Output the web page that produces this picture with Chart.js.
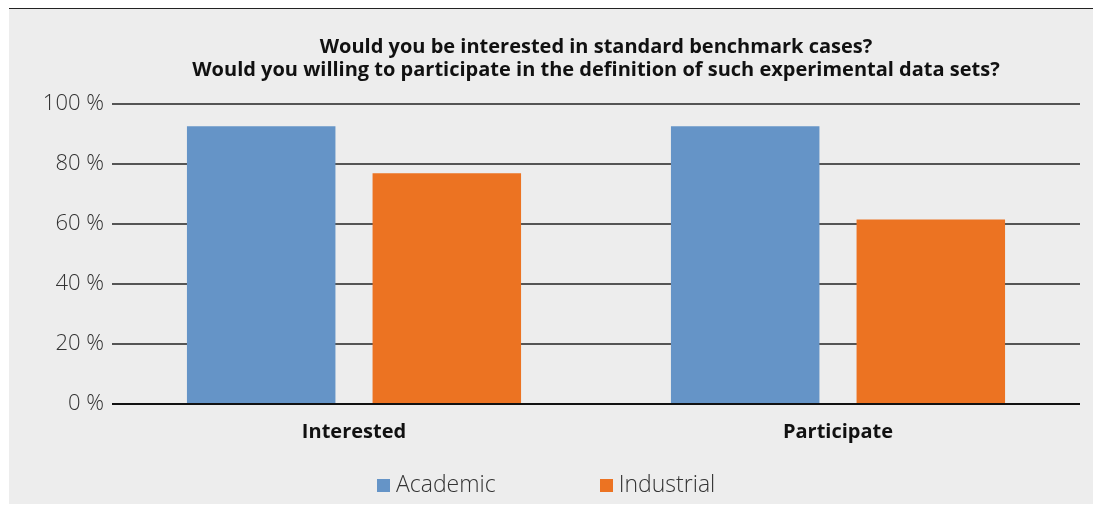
<!DOCTYPE html>
<html lang="en">
<head>
    <meta charset="UTF-8">
    <title>Benchmark cases survey</title>
    <script src="https://cdn.jsdelivr.net/npm/chart.js"></script>
    <style>
        body { margin: 0; background: #fff; }
        #panel { position: absolute; left: 9px; top: 8px; width: 1084px; height: 495px; background: #ededed; border-top: 1.5px solid #222; }
        #wrap { position: absolute; left: 0; top: 0; width: 1093px; height: 505px; }
        #legend { position: absolute; left: 377px; top: 467px; display: flex; gap: 104px; font: 23px "Open Sans", sans-serif; font-weight: 300; color: #333; }
        #legend span.box { display: inline-block; width: 13px; height: 13px; margin-right: 6px; vertical-align: 0px; }
    </style>
</head>
<body>
    <div id="panel"></div>
    <div id="wrap"><canvas id="surveyChart" width="1093" height="505"></canvas></div>
    <div id="legend"></div>

    <script>
        const categories = ['Interested', 'Participate'];
        const academic = [92.6, 92.6];
        const industrial = [76.9, 61.5];
        const yTicks = [0, 20, 40, 60, 80, 100];

        const ctx = document.getElementById('surveyChart').getContext('2d');
        const chart = new Chart(ctx, {
            type: 'bar',
            data: {
                labels: categories,
                datasets: [
                    { label: 'Academic', data: academic, backgroundColor: '#6594c7' },
                    { label: 'Industrial', data: industrial, backgroundColor: '#ec7322' }
                ]
            },
            options: {
                responsive: false,
                animation: false,
                categoryPercentage: 0.767,
                barPercentage: 0.8,
                layout: { padding: { left: 0, right: 13, top: 0, bottom: 61 } },
                plugins: {
                    legend: { display: false },
                    tooltip: { enabled: false },
                    title: {
                        display: true,
                        fullSize: false,
                        text: ['Would you be interested in standard benchmark cases?',
                               'Would you willing to participate in the definition of such experimental data sets?'],
                        color: '#111',
                        font: { family: 'Open Sans', size: 20, weight: 'bold', lineHeight: 1.15 },
                        padding: { top: 36, bottom: 22 }
                    }
                },
                scales: {
                    x: {
                        grid: { display: false, drawTicks: false },
                        border: { display: false },
                        ticks: { color: '#111', padding: 16, font: { family: 'Open Sans', size: 20, weight: 'bold' } },
                        afterFit: s => { s.height = 40; }
                    },
                    y: {
                        min: 0,
                        max: 100,
                        afterBuildTicks: s => { s.ticks = yTicks.map(v => ({ value: v })); },
                        grid: {
                            drawTicks: false,
                            color: c => c.tick && c.tick.value === 0 ? '#111' : '#555',
                            lineWidth: 2
                        },
                        border: { display: false },
                        ticks: {
                            color: '#333',
                            padding: 8,
                            font: { family: 'Open Sans', size: 22, weight: '300' },
                            callback: v => v + ' %'
                        },
                        afterFit: s => { s.width = 112; }
                    }
                }
            }
        });

        document.getElementById('legend').innerHTML = chart.data.datasets.map(ds =>
            `<div><span class="box" style="background:${ds.backgroundColor}"></span>${ds.label}</div>`
        ).join('');
    </script>
</body>
</html>
